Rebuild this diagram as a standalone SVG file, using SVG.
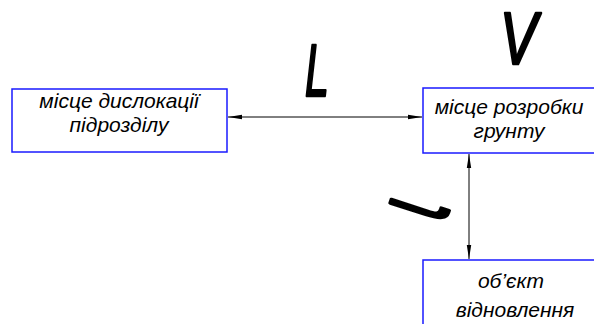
<svg xmlns="http://www.w3.org/2000/svg" width="594" height="324" viewBox="0 0 594 324">
<style>
.box{fill:#fff;stroke:#1a1aff;stroke-width:1.5}
.t{font-family:"Liberation Sans",Arial,sans-serif;font-style:italic;font-size:21px;fill:#000;text-anchor:middle}
.big{font-family:"Liberation Sans",Arial,sans-serif;font-style:italic;font-size:74px;fill:#000;stroke:#000;stroke-width:2.5;stroke-linejoin:round}
.hook{font-family:"DejaVu Sans",sans-serif;font-size:56px;fill:#000;stroke:#000;stroke-width:2;stroke-linejoin:round}
.ln{stroke:#000;stroke-width:1;fill:none}
</style>
<defs>
<marker id="ah" viewBox="0 0 14 6" refX="14" refY="3" markerWidth="14" markerHeight="6" markerUnits="userSpaceOnUse" orient="auto-start-reverse">
<path d="M0,0.8 L14,3 L0,5.2 Z" fill="#000"/>
</marker>
</defs>
<rect width="594" height="324" fill="#fff"/>
<g id="node-dislocation">
<rect class="box" x="12" y="89" width="215" height="63"/>
<text class="t" x="119" y="108">місце дислокації</text>
<text class="t" x="119" y="132">підрозділу</text>
</g>
<g id="node-excavation">
<rect class="box" x="423" y="88" width="172" height="65"/>
<text class="t" x="509" y="114">місце розробки</text>
<text class="t" x="509" y="138">грунту</text>
</g>
<g id="node-object">
<rect class="box" x="423" y="260" width="172" height="70"/>
<text class="t" x="511" y="288">об’єкт</text>
<text class="t" x="515" y="317">відновлення</text>
</g>
<g id="connectors">
<line class="ln" x1="228" y1="117" x2="422" y2="117" marker-start="url(#ah)" marker-end="url(#ah)"/>
<line class="ln" x1="469" y1="154" x2="469" y2="259" marker-start="url(#ah)" marker-end="url(#ah)"/>
</g>
<g id="labels">
<text class="big" transform="translate(305,96) scale(0.58,1)">L</text>
<text class="big" transform="translate(500,64) scale(0.75,1)">V</text>
<text class="hook" transform="translate(444,226) rotate(-72) scale(1,1.9)">ɩ</text>
</g>
</svg>
